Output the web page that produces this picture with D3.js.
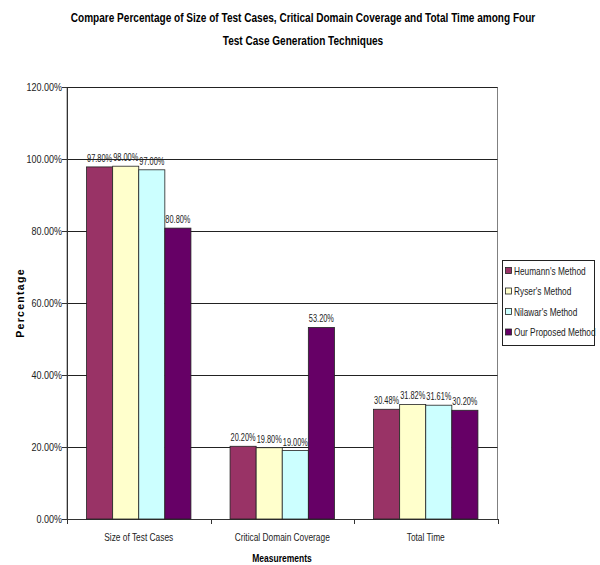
<!DOCTYPE html>
<html><head><meta charset="utf-8">
<script src="https://cdn.jsdelivr.net/npm/d3@7"></script>
<style>body{margin:0;background:#fff}</style>
</head><body>
<svg id="c" width="600" height="565"></svg>
<script>
const categories = ["Size of Test Cases", "Critical Domain Coverage", "Total Time"];
const seriesNames = ["Heumann's Method", "Ryser's Method", "Nilawar's Method", "Our Proposed Method"];
const heumann = [97.80, 20.20, 30.48];
const ryser = [98.00, 19.80, 31.82];
const nilawar = [97.00, 19.00, 31.61];
const proposed = [80.80, 53.20, 30.20];
const yTicks = [0, 20, 40, 60, 80, 100, 120];
const colors = ["#993366", "#FFFFCC", "#CCFFFF", "#660066"];
const series = [heumann, ryser, nilawar, proposed];

const font = "'Liberation Sans',Arial,sans-serif";
const SX = 0.76; // horizontal condensing to mimic Arial Narrow
const svg = d3.select("#c");
const m = {l: 67, r: 497.5, t: 87, b: 519};

const x = d3.scaleBand().domain(categories).range([m.l, m.r]).paddingInner(0).paddingOuter(0);
const barW = x.bandwidth() / 5.5;
const y = d3.scaleLinear().domain([0, 120]).range([m.b, m.t]);

// plot area
svg.append("rect").attr("x", m.l).attr("y", m.t + 0.5).attr("width", m.r - m.l).attr("height", m.b - m.t)
  .attr("fill", "#fff").attr("stroke", "#808080");

// gridlines
svg.append("g").selectAll("line").data(yTicks.filter(d => d > 0)).join("line")
  .attr("x1", m.l).attr("x2", m.r)
  .attr("y1", d => Math.round(y(d)) + 0.5).attr("y2", d => Math.round(y(d)) + 0.5)
  .attr("stroke", "#222").attr("stroke-width", 1);

// y axis
const ya = d3.axisLeft(y).tickValues(yTicks).tickFormat(d => d.toFixed(2) + "%").tickSize(5).tickSizeOuter(0);
const yg = svg.append("g").attr("transform", `translate(${m.l},0)`).call(ya);
yg.select(".domain").attr("stroke", "#333");
yg.selectAll(".tick line").attr("stroke", "#333");
yg.selectAll("text").attr("font-family", font).attr("font-size", 11).attr("fill", "#222")
  .attr("x", -5 / 0.82).attr("transform", "scale(0.82,1)");

// x axis
const xa = d3.axisBottom(x).tickSize(0).tickSizeOuter(0);
const xg = svg.append("g").attr("transform", `translate(0,${m.b})`).call(xa);
xg.select(".domain").attr("stroke", "#333");
xg.selectAll("text").attr("font-family", font).attr("font-size", 11).attr("fill", "#222")
  .attr("dy", 0).attr("y", 22).attr("transform", `scale(${SX},1)`);
// category boundary ticks
const bounds = categories.map(c => x(c)).concat([x(categories[categories.length - 1]) + x.bandwidth()]);
svg.append("g").selectAll("line").data(bounds).join("line")
  .attr("x1", d => Math.round(d) + 0.5).attr("x2", d => Math.round(d) + 0.5)
  .attr("y1", m.b).attr("y2", m.b + 5).attr("stroke", "#333");

// bars
const data = [];
categories.forEach((c, ci) => series.forEach((s, si) => data.push({c, si, v: s[ci]})));
const bx = d => x(d.c) + barW * 0.75 + d.si * barW;
svg.append("g").selectAll("rect").data(data).join("rect")
  .attr("x", bx).attr("y", d => y(d.v)).attr("width", barW).attr("height", d => y(0) - y(d.v))
  .attr("fill", d => colors[d.si]).attr("stroke", "#222").attr("stroke-width", 0.8);

// value labels
svg.append("g").selectAll("text").data(data).join("text")
  .attr("transform", d => `translate(${bx(d) + barW / 2},${y(d.v) - 5}) scale(0.74,1)`)
  .attr("text-anchor", "middle").attr("font-family", font).attr("font-size", 10).attr("fill", "#222")
  .text(d => d.v.toFixed(2) + "%");

// title
const t1 = svg.append("text").attr("text-anchor", "middle").attr("font-family", font)
  .attr("font-weight", "bold").attr("font-size", 13.5).attr("fill", "#000")
  .text("Compare Percentage of Size of Test Cases, Critical Domain Coverage and Total Time among Four");
const tsx = 465 / t1.node().getComputedTextLength();
t1.attr("transform", `translate(303,22) scale(${tsx},1)`);
svg.append("text").attr("text-anchor", "middle").attr("font-family", font)
  .attr("font-weight", "bold").attr("font-size", 13.5).attr("fill", "#000")
  .attr("transform", `translate(303,45) scale(${tsx},1)`)
  .text("Test Case Generation Techniques");

// axis titles
svg.append("text").attr("transform", `translate(24,${(m.t + m.b) / 2}) rotate(-90)`).attr("text-anchor", "middle")
  .attr("font-family", font).attr("font-weight", "bold").attr("font-size", 10.5)
  .attr("letter-spacing", 1.3).text("Percentage");
svg.append("text").attr("transform", `translate(282,562) scale(0.74,1)`).attr("text-anchor", "middle")
  .attr("font-family", font).attr("font-weight", "bold").attr("font-size", 11.5).text("Measurements");

// legend
const lg = svg.append("g");
lg.append("rect").attr("x", 502.5).attr("y", 260.5).attr("width", 92).attr("height", 85)
  .attr("fill", "#fff").attr("stroke", "#222");
const items = lg.selectAll("g.it").data(seriesNames).join("g").attr("class", "it")
  .attr("transform", (d, i) => `translate(505,${271 + i * 20.5})`);
items.append("rect").attr("x", 0.5).attr("y", -3.5).attr("width", 6).attr("height", 6)
  .attr("fill", (d, i) => colors[i]).attr("stroke", "#222").attr("stroke-width", 0.8);
items.append("text").attr("transform", "translate(9,0) scale(0.79,1)").attr("dy", "0.35em").attr("font-family", font)
  .attr("font-size", 10.5).attr("fill", "#222").text(d => d);
</script>
</body></html>
